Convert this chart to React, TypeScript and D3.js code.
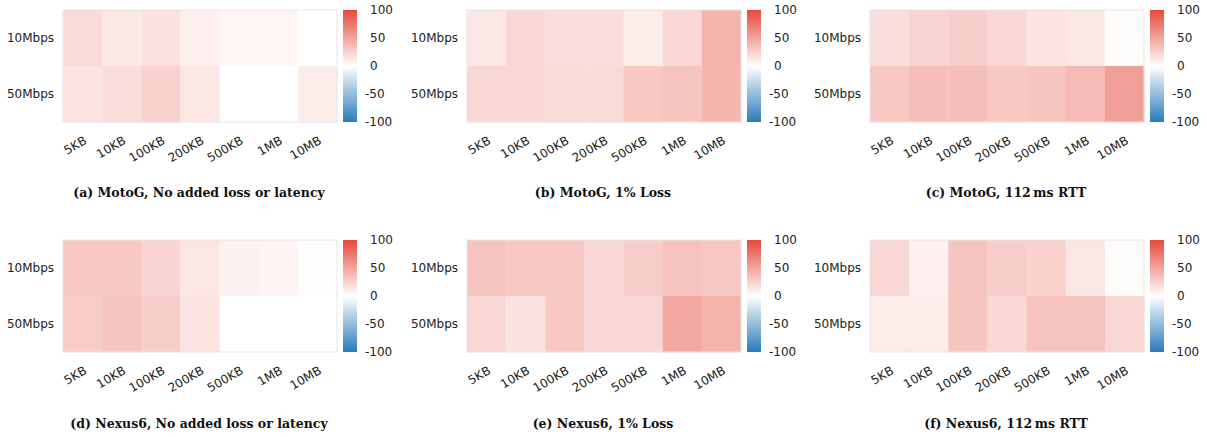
import React from "react";
import * as d3 from "d3";

const sizes = ["5KB", "10KB", "100KB", "200KB", "500KB", "1MB", "10MB"];
const rates = ["10Mbps", "50Mbps"];
const colorTicks = [100, 50, 0, -50, -100];

// rows: 10Mbps, 50Mbps
const motoGBase = [
  [20, 12, 16, 8, 5, 5, 0],
  [15, 19, 25, 13, 0, 0, 10],
];
const motoGLoss = [
  [12, 22, 18, 18, 10, 22, 42],
  [22, 22, 20, 20, 30, 32, 40],
];
const motoGRtt = [
  [18, 23, 27, 22, 15, 12, 2],
  [30, 35, 35, 30, 32, 38, 52],
];
const nexusBase = [
  [30, 30, 23, 14, 7, 6, 1],
  [28, 32, 27, 15, 0, 0, 0],
];
const nexusLoss = [
  [32, 30, 30, 22, 27, 33, 31],
  [22, 16, 30, 22, 22, 47, 42],
];
const nexusRtt = [
  [22, 8, 32, 27, 25, 14, 2],
  [10, 10, 32, 22, 33, 33, 22],
];

const captions = [
  "(a) MotoG, No added loss or latency",
  "(b) MotoG, 1% Loss",
  "(c) MotoG, 112\u2009ms RTT",
  "(d) Nexus6, No added loss or latency",
  "(e) Nexus6, 1% Loss",
  "(f) Nexus6, 112\u2009ms RTT",
];
const panelData = [motoGBase, motoGLoss, motoGRtt, nexusBase, nexusLoss, nexusRtt];

const W = 1207;
const H = 437;
const colX = [63, 467, 870];
const captionX = [199, 603, 1006];
const rowY = [10, 240];
const captionY = [197, 428];
const gridW = 274;
const gridH = 112;
const cbGap = 6;
const cbW = 14;

const tickFont = "'DejaVu Sans', Verdana, sans-serif";
const captionFont = "'DejaVu Serif', serif";

const color = d3
  .scaleLinear<string>()
  .domain([-100, 0, 100])
  .range(["#2b7bba", "#ffffff", "#e5493a"])
  .interpolate(d3.interpolateRgb);

const xScale = d3.scaleBand<string>().domain(sizes).range([0, gridW]);
const yScale = d3.scaleBand<string>().domain(rates).range([0, gridH]);
const cbScale = d3.scaleLinear().domain([-100, 100]).range([gridH, 0]);

const gradStops = d3.range(0, 1.0001, 0.05);

function Panel({ idx }: { idx: number }) {
  const col = idx % 3;
  const row = Math.floor(idx / 3);
  const x0 = colX[col];
  const y0 = rowY[row];
  const data = panelData[idx];
  const cbX = gridW + cbGap;
  return (
    <g>
      <g transform={`translate(${x0},${y0})`}>
        {rates.map((r, ri) =>
          sizes.map((s, si) => (
            <rect
              key={`${r}-${s}`}
              x={xScale(s)}
              y={yScale(r)}
              width={xScale.bandwidth() + 0.3}
              height={yScale.bandwidth() + 0.3}
              fill={color(data[ri][si])}
            />
          ))
        )}
        <rect x={0} y={0} width={gridW} height={gridH} fill="none" stroke="#e6e6e6" strokeWidth={1} />
        {rates.map((r) => (
          <text
            key={r}
            x={-9}
            y={(yScale(r) as number) + yScale.bandwidth() / 2}
            textAnchor="end"
            dominantBaseline="central"
            fontFamily={tickFont}
            fontSize={12}
            fill="#222"
          >
            {r}
          </text>
        ))}
        {sizes.map((s) => {
          const cx = (xScale(s) as number) + xScale.bandwidth() / 2;
          return (
            <text
              key={s}
              transform={`translate(${cx + 5},${gridH + 21}) rotate(-30)`}
              textAnchor="end"
              fontFamily={tickFont}
              fontSize={12}
              fill="#222"
            >
              {s}
            </text>
          );
        })}
        <rect x={cbX} y={0} width={cbW} height={gridH} fill={`url(#cbgrad)`} />
        {colorTicks.map((t) => (
          <text
            key={t}
            x={cbX + cbW + (t < 0 ? 8 : 13)}
            y={cbScale(t)}
            dominantBaseline="central"
            fontFamily={tickFont}
            fontSize={12}
            fill="#222"
          >
            {t < 0 ? `-${Math.abs(t)}` : `${t}`}
          </text>
        ))}
      </g>
      <text
        x={captionX[col]}
        y={captionY[row]}
        textAnchor="middle"
        fontFamily={captionFont}
        fontWeight="bold"
        fontSize={12.5}
        fill="#111"
      >
        {captions[idx]}
      </text>
    </g>
  );
}

export default function App() {
  return (
    <svg
      width={W}
      height={H}
      style={{ position: "absolute", left: 0, top: 0, background: "#fff" }}
    >
      <defs>
        <linearGradient id="cbgrad" x1="0" y1="1" x2="0" y2="0">
          {gradStops.map((p) => (
            <stop key={p} offset={p} stopColor={color(-100 + 200 * p)} />
          ))}
        </linearGradient>
      </defs>
      <rect x={0} y={0} width={W} height={H} fill="#fff" />
      {panelData.map((_, i) => (
        <Panel key={i} idx={i} />
      ))}
    </svg>
  );
}
